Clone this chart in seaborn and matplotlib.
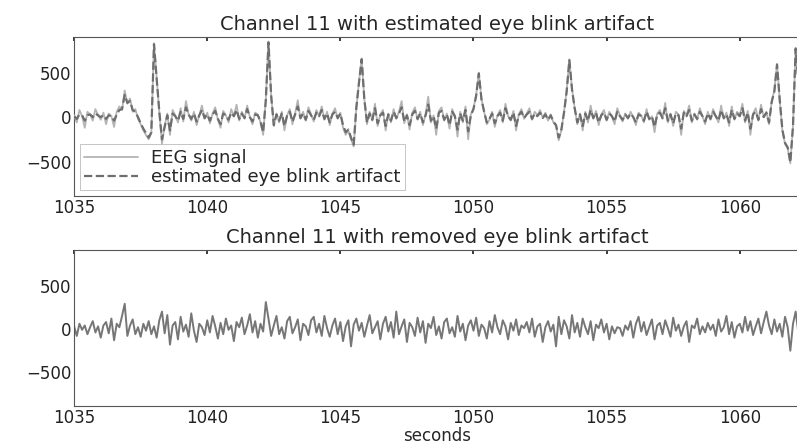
import numpy as np
import pandas as pd
import seaborn as sns
import matplotlib.pyplot as plt

# sampling grid: 10 samples per second starting at 1035 s
t_start = 1035.0
fs = 10

# raw EEG, channel 11 (0.1 s steps)
eeg_raw = [
    20, -60, 80, 10, -120, 60, 30, -40, 90, 20,
    -30, 50, -80, 40, 10, -110, 60, 120, 80, 300,
    150, 210, 60, 90, -20, -80, -150, -200, -250, -180,
    830, 450, 50, -300, -100, 40, -200, 80, 20, -60,
    100, -50, 180, 30, -40, 60, -90, 20, 130, -20,
    50, -70, 40, 110, -30, -120, 70, 20, -60, 90,
    10, 140, -40, 60, -20, 130, 0, -80, 50, 30,
    -60, -200, 200, 850, 250, -100, 40, -60, 60, -150,
    20, 90, -80, 40, 190, -20, 60, -40, 110, 30,
    -50, 80, 10, 120, -30, 60, -90, 40, 100, -20,
    50, -120, -200, -150, -250, -330, 100, 400, 660, 200,
    -80, 60, -40, 150, -100, 30, 80, -150, 40, -60,
    90, -20, 60, 180, -70, 30, -140, 50, 110, -30,
    60, -90, 30, 230, -60, 20, -200, 70, 110, -40,
    40, -130, 90, 10, -220, 60, -60, 120, -250, 30,
    100, 250, 500, 200, 60, -80, -30, 60, -110, 20,
    80, -60, 150, 10, -40, 70, -150, 30, 90, -20,
    40, 100, -30, 60, 20, 80, -10, 50, -40, 30,
    -60, -100, -260, -150, 60, 300, 650, 320, 100, -80,
    40, -150, 60, -60, 130, -20, 70, -90, 30, 80,
    -40, 60, 10, -80, 100, 20, -50, 40, -20, 60,
    0, -90, 50, 20, -60, 90, -30, 10, -170, 40,
    80, -20, 160, -60, 40, -100, 60, 30, -200, 70,
    20, 130, -60, 40, -30, 100, 10, -80, 60, -30,
    90, 10, -60, 130, -20, 50, -100, 120, -30, 60,
    20, 150, -60, 70, -200, 40, 100, -40, 140, 0,
    60, -80, 180, 300, 600, 200, -150, -300, -350, -520,
    -100, 780, 400,
]

# estimated eye blink artifact
blink_est = [
    10, -20, 30, 20, -40, 20, 30, 0, 40, 20,
    0, 20, -20, 20, 10, -40, 30, 80, 90, 250,
    160, 180, 80, 60, 0, -70, -130, -180, -230, -170,
    820, 430, 60, -250, -110, 20, -150, 40, 10, -40,
    60, -20, 110, 30, -20, 40, -50, 20, 80, -10,
    30, -40, 30, 70, -20, -80, 40, 20, -30, 50,
    10, 80, -20, 40, -10, 90, 0, -50, 30, 20,
    -50, -170, 190, 840, 240, -90, 30, -40, 40, -100,
    20, 60, -50, 30, 120, -10, 40, -30, 70, 20,
    -30, 50, 10, 80, -20, 40, -60, 30, 60, -10,
    40, -90, -170, -140, -230, -310, 110, 390, 650, 200,
    -60, 40, -30, 100, -70, 20, 50, -100, 30, -40,
    60, -10, 40, 110, -50, 20, -90, 30, 70, -20,
    40, -60, 20, 140, -40, 10, -130, 50, 70, -30,
    30, -90, 60, 10, -140, 40, -40, 80, -160, 20,
    90, 240, 490, 200, 60, -60, -20, 40, -70, 10,
    50, -40, 100, 10, -30, 50, -100, 20, 60, -10,
    30, 60, -20, 40, 10, 50, -10, 30, -30, 20,
    -50, -90, -230, -140, 50, 290, 640, 310, 100, -60,
    30, -100, 40, -40, 80, -10, 50, -60, 20, 50,
    -30, 40, 10, -50, 60, 10, -30, 30, -10, 40,
    0, -60, 30, 10, -40, 60, -20, 10, -110, 30,
    50, -10, 100, -40, 30, -70, 40, 20, -130, 50,
    10, 80, -40, 30, -20, 60, 10, -50, 40, -20,
    60, 10, -40, 80, -10, 30, -60, 80, -20, 40,
    10, 100, -40, 50, -130, 30, 60, -30, 90, 0,
    50, -60, 170, 290, 590, 200, -140, -290, -340, -510,
    -100, 770, 400,
]

# channel 11 after removing the blink artifact
eeg_clean = [
    30, -80, 60, -10, 40, -60, 20, 90, -40, 30,
    -100, 40, 80, -50, 120, -130, 60, 20, 150, 290,
    -80, 40, 110, -60, 20, -90, 60, -20, 90, -60,
    30, -100, 100, 200, -50, 160, -180, 40, 80, -120,
    140, -30, 50, -90, 180, -20, -150, 60, 20, -70,
    100, -40, 150, 30, -110, 70, -60, 120, -10, 40,
    -140, 80, 20, 130, -60, 40, 170, -40, 90, -100,
    60, -30, 310, 120, -80, 40, 150, -60, 20, -110,
    90, 140, -50, 20, 110, -130, 60, 30, -70, 100,
    140, -40, 60, -80, 150, 10, -90, 40, 120, -60,
    80, -140, 30, 100, -200, 50, 120, -20, 70, -90,
    40, 160, -50, 20, 90, -120, 60, 140, -30, 80,
    -100, 200, -60, 30, 110, -150, 70, 20, -80, 130,
    -40, 90, -160, 60, 10, 140, -70, 30, -110, 80,
    120, -50, 20, -90, 150, -30, 60, -130, 40, 100,
    -20, 130, -80, 50, 10, -110, 90, -40, 160, 20,
    -60, 100, 30, -120, 70, -20, 110, -70, 40, 10,
    80, -40, 120, -90, 30, 60, -150, 20, 90, -30,
    50, -200, 140, -60, 100, 30, -110, 160, -40, 70,
    -90, 120, 20, -60, 90, -130, 50, 10, 110, -40,
    60, -120, 30, -50, 20, 10, -80, 40, -10, 90,
    -100, 60, 140, -30, 80, -70, 20, 110, -120, 40,
    70, -60, 100, 10, -90, 130, -20, 50, -80, 30,
    90, -150, 40, 10, 120, -60, 30, -40, 70, -10,
    50, -80, 110, -30, 20, 150, -60, 80, -100, 30,
    60, -40, 140, -20, 90, -70, 30, 120, -50, 80,
    200, 40, -60, 110, -30, 60, -90, 140, 20, -250,
    60, 200, -40,
]

x_ticks = [1035, 1040, 1045, 1050, 1055, 1060]
y_ticks = [-500, 0, 500]

t = t_start + np.arange(len(eeg_raw)) / fs
df = pd.DataFrame({"t": t, "raw": eeg_raw, "blink": blink_est, "clean": eeg_clean})

sns.set_theme(style="white")
plt.rcParams["font.family"] = ["DejaVu Sans"]
plt.rcParams["font.size"] = 12

fig = plt.figure(figsize=(7.97, 4.47), dpi=100)
ax1 = fig.add_axes([0.093, 0.562, 0.912, 0.356])
ax2 = fig.add_axes([0.093, 0.092, 0.912, 0.348])

sns.lineplot(data=df, x="t", y="raw", ax=ax1, color="#b4b4b4", linewidth=1.3,
             label="EEG signal", zorder=3)
sns.lineplot(data=df, x="t", y="blink", ax=ax1, color="#6e6e6e", linewidth=1.6,
             linestyle="--", label="estimated eye blink artifact", zorder=4)
sns.lineplot(data=df, x="t", y="clean", ax=ax2, color="#767676", linewidth=1.4)

for ax in (ax1, ax2):
    ax.set_xlim(1035, 1062.3)
    ax.set_ylim(-885, 905)
    ax.set_xticks(x_ticks)
    ax.set_yticks(y_ticks)
    ax.tick_params(direction="in", top=True, right=True, length=3,
                   labelsize=12, colors="#222222", pad=2)
    ax.set_ylabel("")
    ax.set_xlabel("")
    for s in ax.spines.values():
        s.set_color("#555555")
        s.set_linewidth(0.8)

ax1.set_title("Channel 11 with estimated eye blink artifact", fontsize=14, pad=5)
ax2.set_title("Channel 11 with removed eye blink artifact", fontsize=14, pad=5)
ax2.set_xlabel("seconds", fontsize=12, va="top")
ax2.xaxis.set_label_coords(0.5, -0.135)

leg = ax1.legend(loc="lower left", fontsize=13, frameon=True, borderaxespad=0.3,
                 handlelength=3.0, labelspacing=0.05, borderpad=0.25,
                 handletextpad=0.7, fancybox=False)
leg.get_frame().set_edgecolor("#aaaaaa")
leg.get_frame().set_linewidth(0.6)
leg.set_zorder(2)

fig.savefig("out.png", dpi=100)
